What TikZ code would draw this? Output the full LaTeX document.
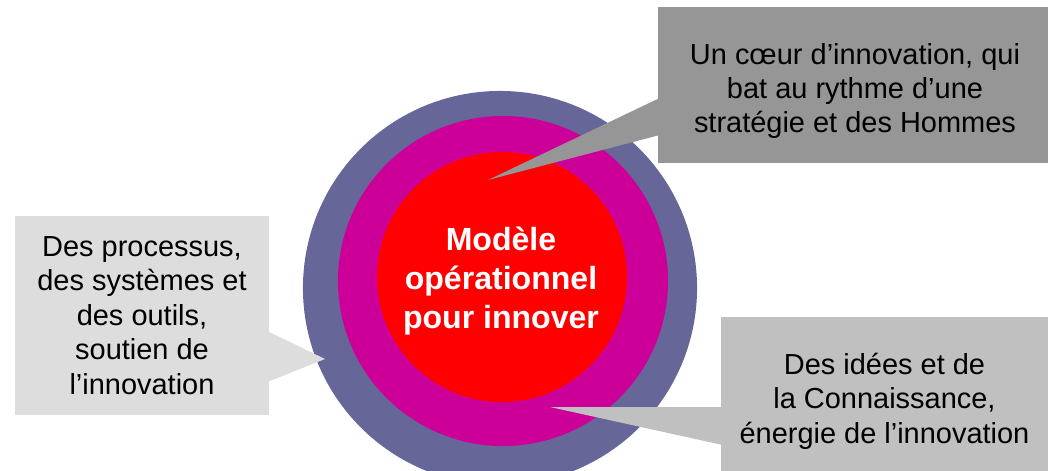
\documentclass[tikz,border=0pt]{standalone}
\usepackage{fontspec}
\setmainfont{Liberation Sans}
\usetikzlibrary{calc}

\definecolor{ringouter}{HTML}{666699}
\definecolor{ringmid}{HTML}{CC0099}
\definecolor{ringcore}{HTML}{FF0000}
\definecolor{boxdark}{HTML}{969696}
\definecolor{boxmid}{HTML}{C0C0C0}
\definecolor{boxlight}{HTML}{DDDDDD}

\tikzset{
  ring/.style={circle, inner sep=0pt},
  labelbox/.style={inner sep=0pt, align=center, font=\fontsize{20.6}{24.5}\selectfont}
}

\begin{document}
\begin{tikzpicture}[x=0.025cm, y=-0.025cm]
    \useasboundingbox (0, 0) rectangle (1048, 470);

    \node[ring, fill=ringouter, minimum size=9.85cm] at (500, 288) (outer) {};
    \node[ring, fill=ringmid, minimum size=8.25cm] at (503, 281) (middle) {};
    \node[ring, fill=ringcore, minimum size=6.25cm] at (502, 277) (core) {};
    \node[text=white, align=center, font=\bfseries\fontsize{22.8}{27.7}\selectfont] at (501, 281) (title) {Modèle\\opérationnel\\pour innover};

    \node[labelbox, fill=boxlight, minimum width=6.35cm, minimum height=4.975cm] at (142, 315.5) (tools) {Des processus,\\des systèmes et\\des outils,\\soutien de\\l’innovation};
    \node[labelbox, fill=boxdark, minimum width=9.75cm, minimum height=3.9cm] at (853, 85) (heart) {};
    \node[labelbox] at ($(heart.center)+(2, 6)$) (heartText) {Un cœur d’innovation, qui\\bat au rythme d’une\\stratégie et des Hommes};
    \node[labelbox, fill=boxmid, minimum width=8.175cm, minimum height=4.05cm] at (884.5, 398) (ideas) {};
    \node[labelbox] at ($(ideas.center)+(0, 3)$) (ideasText) {Des idées et de\\la Connaissance,\\énergie de l’innovation};

    \coordinate (toolsTip) at (325, 359);
    \coordinate (heartTip) at (488, 180);
    \coordinate (ideasTip) at (550, 407);

    \fill[boxlight] ($(tools.east)+(-2, 15.5)$) -- (toolsTip) -- ($(tools.east)+(-2, 66.5)$) -- cycle;
    \fill[boxdark] ($(heart.west)+(2, 13)$) -- (heartTip) -- ($(heart.west)+(2, 50)$) -- cycle;
    \fill[boxmid] ($(ideas.west)+(2, 9)$) -- (ideasTip) -- ($(ideas.west)+(2, 47)$) -- cycle;
\end{tikzpicture}
\end{document}
